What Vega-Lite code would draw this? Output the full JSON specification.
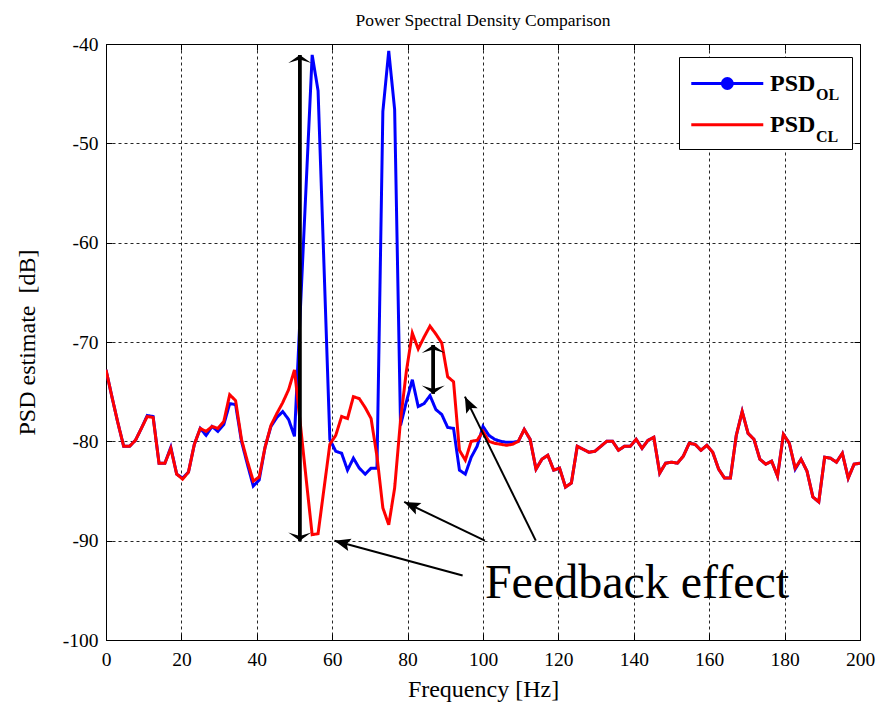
{
  "$schema": "https://vega.github.io/schema/vega-lite/v6.json",
  "width": 754,
  "height": 596,
  "autosize": {"type": "none"},
  "padding": {"left": 106, "top": 44, "right": 35, "bottom": 64},
  "background": "white",
  "title": {"text": "Power Spectral Density Comparison", "font": "Liberation Serif", "fontSize": 17.5, "fontWeight": "normal", "color": "black", "offset": 5},
  "config": {
    "view": {"stroke": "black", "strokeWidth": 1},
    "font": "Liberation Serif",
    "axis": {"labelFont": "Liberation Serif", "titleFont": "Liberation Serif", "labelColor": "black", "titleColor": "black", "titleFontWeight": "normal", "labelFlush": false, "labelOverlap": false, "labelBound": false}
  },
  "datasets": {
    "psd": [
      {"f": 0, "OL": -72.8, "CL": -72.8},
      {"f": 1.5625, "OL": -75.5, "CL": -75.5},
      {"f": 3.125, "OL": -78.1, "CL": -78.1},
      {"f": 4.6875, "OL": -80.5, "CL": -80.5},
      {"f": 6.25, "OL": -80.5, "CL": -80.5},
      {"f": 7.8125, "OL": -79.9, "CL": -79.9},
      {"f": 9.375, "OL": -78.7, "CL": -78.7},
      {"f": 10.9375, "OL": -77.4, "CL": -77.5},
      {"f": 12.5, "OL": -77.5, "CL": -77.6},
      {"f": 14.0625, "OL": -82.2, "CL": -82.2},
      {"f": 15.625, "OL": -82.2, "CL": -82.2},
      {"f": 17.1875, "OL": -80.6, "CL": -80.7},
      {"f": 18.75, "OL": -83.3, "CL": -83.3},
      {"f": 20.3125, "OL": -83.7, "CL": -83.8},
      {"f": 21.875, "OL": -83.1, "CL": -83.1},
      {"f": 23.4375, "OL": -80.3, "CL": -80.3},
      {"f": 25.0, "OL": -78.7, "CL": -78.7},
      {"f": 26.5625, "OL": -79.4, "CL": -79.0},
      {"f": 28.125, "OL": -78.5, "CL": -78.5},
      {"f": 29.6875, "OL": -79.0, "CL": -78.7},
      {"f": 31.25, "OL": -78.3, "CL": -78.0},
      {"f": 32.8125, "OL": -76.2, "CL": -75.3},
      {"f": 34.375, "OL": -76.3, "CL": -75.9},
      {"f": 35.9375, "OL": -80.0, "CL": -79.8},
      {"f": 37.5, "OL": -82.3, "CL": -82.0},
      {"f": 39.0625, "OL": -84.5, "CL": -84.0},
      {"f": 40.625, "OL": -83.9, "CL": -83.6},
      {"f": 42.1875, "OL": -80.6, "CL": -80.6},
      {"f": 43.75, "OL": -78.5, "CL": -78.4},
      {"f": 45.3125, "OL": -77.6, "CL": -77.2},
      {"f": 46.875, "OL": -77.0, "CL": -76.1},
      {"f": 48.4375, "OL": -77.8, "CL": -74.8},
      {"f": 50.0, "OL": -79.5, "CL": -72.8},
      {"f": 51.5625, "OL": -66.7, "CL": -78.3},
      {"f": 53.125, "OL": -53.9, "CL": -83.9},
      {"f": 54.6875, "OL": -41.1, "CL": -89.4},
      {"f": 56.25, "OL": -44.7, "CL": -89.3},
      {"f": 57.8125, "OL": -62.2, "CL": -84.8},
      {"f": 59.375, "OL": -79.8, "CL": -80.3},
      {"f": 60.9375, "OL": -81.0, "CL": -79.4},
      {"f": 62.5, "OL": -81.2, "CL": -77.5},
      {"f": 64.0625, "OL": -82.9, "CL": -77.7},
      {"f": 65.625, "OL": -81.7, "CL": -75.5},
      {"f": 67.1875, "OL": -82.7, "CL": -75.7},
      {"f": 68.75, "OL": -83.3, "CL": -76.6},
      {"f": 70.3125, "OL": -82.7, "CL": -77.7},
      {"f": 71.875, "OL": -82.7, "CL": -81.5},
      {"f": 73.4375, "OL": -46.8, "CL": -86.7},
      {"f": 75.0, "OL": -40.7, "CL": -88.4},
      {"f": 76.5625, "OL": -46.6, "CL": -84.7},
      {"f": 78.125, "OL": -78.4, "CL": -77.9},
      {"f": 79.6875, "OL": -76.0, "CL": -72.9},
      {"f": 81.25, "OL": -73.8, "CL": -69.1},
      {"f": 82.8125, "OL": -76.5, "CL": -70.7},
      {"f": 84.375, "OL": -76.2, "CL": -69.5},
      {"f": 85.9375, "OL": -75.4, "CL": -68.4},
      {"f": 87.5, "OL": -76.8, "CL": -69.2},
      {"f": 89.0625, "OL": -77.3, "CL": -70.1},
      {"f": 90.625, "OL": -78.6, "CL": -73.5},
      {"f": 92.1875, "OL": -78.7, "CL": -74.0},
      {"f": 93.75, "OL": -82.9, "CL": -80.9},
      {"f": 95.3125, "OL": -83.3, "CL": -81.9},
      {"f": 96.875, "OL": -81.6, "CL": -80.0},
      {"f": 98.4375, "OL": -80.5, "CL": -79.9},
      {"f": 100.0, "OL": -78.5, "CL": -79.0},
      {"f": 101.5625, "OL": -79.4, "CL": -80.0},
      {"f": 103.125, "OL": -79.8, "CL": -80.2},
      {"f": 104.6875, "OL": -80.0, "CL": -80.3},
      {"f": 106.25, "OL": -80.1, "CL": -80.4},
      {"f": 107.8125, "OL": -80.1, "CL": -80.3},
      {"f": 109.375, "OL": -80.0, "CL": -80.0},
      {"f": 110.9375, "OL": -78.8, "CL": -78.8},
      {"f": 112.5, "OL": -79.8, "CL": -79.8},
      {"f": 114.0625, "OL": -82.8, "CL": -82.8},
      {"f": 115.625, "OL": -81.8, "CL": -81.8},
      {"f": 117.1875, "OL": -81.4, "CL": -81.4},
      {"f": 118.75, "OL": -82.9, "CL": -82.9},
      {"f": 120.3125, "OL": -82.7, "CL": -82.7},
      {"f": 121.875, "OL": -84.6, "CL": -84.6},
      {"f": 123.4375, "OL": -84.2, "CL": -84.2},
      {"f": 125.0, "OL": -80.5, "CL": -80.5},
      {"f": 126.5625, "OL": -80.8, "CL": -80.8},
      {"f": 128.125, "OL": -81.1, "CL": -81.1},
      {"f": 129.6875, "OL": -81.0, "CL": -81.0},
      {"f": 131.25, "OL": -80.5, "CL": -80.5},
      {"f": 132.8125, "OL": -80.0, "CL": -80.0},
      {"f": 134.375, "OL": -80.0, "CL": -80.0},
      {"f": 135.9375, "OL": -80.9, "CL": -80.9},
      {"f": 137.5, "OL": -80.5, "CL": -80.5},
      {"f": 139.0625, "OL": -80.5, "CL": -80.5},
      {"f": 140.625, "OL": -79.8, "CL": -79.8},
      {"f": 142.1875, "OL": -80.7, "CL": -80.7},
      {"f": 143.75, "OL": -79.9, "CL": -79.9},
      {"f": 145.3125, "OL": -79.6, "CL": -79.6},
      {"f": 146.875, "OL": -83.2, "CL": -83.2},
      {"f": 148.4375, "OL": -82.2, "CL": -82.2},
      {"f": 150.0, "OL": -82.1, "CL": -82.1},
      {"f": 151.5625, "OL": -82.2, "CL": -82.2},
      {"f": 153.125, "OL": -81.5, "CL": -81.5},
      {"f": 154.6875, "OL": -80.2, "CL": -80.2},
      {"f": 156.25, "OL": -80.3, "CL": -80.3},
      {"f": 157.8125, "OL": -80.9, "CL": -80.9},
      {"f": 159.375, "OL": -80.4, "CL": -80.4},
      {"f": 160.9375, "OL": -81.1, "CL": -81.1},
      {"f": 162.5, "OL": -82.8, "CL": -82.8},
      {"f": 164.0625, "OL": -83.7, "CL": -83.7},
      {"f": 165.625, "OL": -83.7, "CL": -83.7},
      {"f": 167.1875, "OL": -79.4, "CL": -79.4},
      {"f": 168.75, "OL": -77.0, "CL": -77.0},
      {"f": 170.3125, "OL": -79.2, "CL": -79.2},
      {"f": 171.875, "OL": -79.8, "CL": -79.8},
      {"f": 173.4375, "OL": -81.8, "CL": -81.8},
      {"f": 175.0, "OL": -82.3, "CL": -82.3},
      {"f": 176.5625, "OL": -82.0, "CL": -82.0},
      {"f": 178.125, "OL": -83.5, "CL": -83.5},
      {"f": 179.6875, "OL": -79.3, "CL": -79.3},
      {"f": 181.25, "OL": -80.2, "CL": -80.2},
      {"f": 182.8125, "OL": -82.8, "CL": -82.7},
      {"f": 184.375, "OL": -81.8, "CL": -81.8},
      {"f": 185.9375, "OL": -83.0, "CL": -83.0},
      {"f": 187.5, "OL": -85.6, "CL": -85.6},
      {"f": 189.0625, "OL": -86.1, "CL": -86.1},
      {"f": 190.625, "OL": -81.6, "CL": -81.6},
      {"f": 192.1875, "OL": -81.7, "CL": -81.7},
      {"f": 193.75, "OL": -82.1, "CL": -82.1},
      {"f": 195.3125, "OL": -81.2, "CL": -81.2},
      {"f": 196.875, "OL": -83.7, "CL": -83.7},
      {"f": 198.4375, "OL": -82.3, "CL": -82.3},
      {"f": 200.0, "OL": -82.2, "CL": -82.2}
    ],
    "heads": [
      {"x": 51.4, "y": -41.1, "fx": 51.4, "fy": -90.0, "kind": "double"},
      {"x": 51.4, "y": -90.0, "fx": 51.4, "fy": -41.1, "kind": "double"},
      {"x": 86.8, "y": -70.3, "fx": 86.8, "fy": -75.2, "kind": "double"},
      {"x": 86.8, "y": -75.2, "fx": 86.8, "fy": -70.3, "kind": "double"},
      {"x": 60.6, "y": -90.0, "fx": 94.6, "fy": -93.5, "kind": "single"},
      {"x": 79.1, "y": -86.1, "fx": 100.5, "fy": -90.0, "kind": "single"},
      {"x": 95.2, "y": -75.5, "fx": 114.0, "fy": -90.0, "kind": "single"}
    ],
    "note": [
      {"label": "Feedback effect", "x": 100.5, "y": -95.8}
    ]
  },
  "layer": [
    {
      "data": {"name": "psd"},
      "transform": [{"fold": ["OL", "CL"], "as": ["series", "psd"]}],
      "mark": {"type": "line", "strokeWidth": 3, "clip": true},
      "encoding": {
        "x": {"field": "f", "type": "quantitative", "scale": {"domain": [0, 200], "nice": false},
          "axis": {"orient": "bottom", "values": [0, 20, 40, 60, 80, 100, 120, 140, 160, 180, 200], "grid": true, "gridColor": "black", "gridDash": [3, 3], "gridOpacity": 0.85, "domain": false, "ticks": true, "tickSize": -6, "tickColor": "black", "labelFontSize": 19.5, "labelPadding": 16, "labelExpr": "datum.value + ''", "title": "Frequency [Hz]", "titleFontSize": 24, "titlePadding": 9}},
        "y": {"field": "psd", "type": "quantitative", "scale": {"domain": [-100, -40], "nice": false},
          "axis": {"orient": "left", "values": [-100, -90, -80, -70, -60, -50, -40], "grid": true, "gridColor": "black", "gridDash": [3, 3], "gridOpacity": 0.85, "domain": false, "ticks": true, "tickSize": -6, "tickColor": "black", "labelFontSize": 19.5, "labelPadding": 14, "labelExpr": "datum.value + ''", "title": "PSD estimate\u00a0 [dB]", "titleFontSize": 24, "titlePadding": 23}},
        "color": {"field": "series", "type": "nominal", "scale": {"domain": ["OL", "CL"], "range": ["#0000ff", "#ff0000"]},
          "legend": {"orient": "none", "legendX": 573, "legendY": 13, "title": null, "direction": "vertical", "padding": 12, "strokeColor": "black", "fillColor": "white", "symbolType": "M-1.12,0L4.55,0M10.1,0", "symbolSize": 645, "symbolStrokeWidth": 3, "labelFont": "Liberation Serif", "labelFontSize": 24, "labelFontWeight": "bold", "labelColor": "black", "labelOffset": 50, "rowPadding": 14.3, "labelExpr": "'PSD'",
            "encode": {"symbols": {"update": {"shape": {"signal": "datum.value === 'OL' ? 'M-1.12,0L4.55,0M2.11,0A0.39,0.39,0,1,1,1.33,0A0.39,0.39,0,1,1,2.11,0M10.1,0' : 'M-1.12,0L4.55,0M10.1,0'"}, "fill": {"signal": "datum.value === 'OL' ? '#0000ff' : 'transparent'"}}}}}},
        "strokeDash": {"field": "series", "type": "nominal", "sort": "descending", "scale": {"range": [[1, 0], [1, 0]]},
          "legend": {"orient": "none", "legendX": 694, "legendY": 42.5, "title": null, "direction": "vertical", "padding": 0, "symbolType": "circle", "symbolSize": 1, "symbolOpacity": 0, "labelOffset": 0, "labelFont": "Liberation Serif", "labelFontSize": 16, "labelFontWeight": "bold", "labelColor": "black", "rowPadding": 26.5}}
      }
    },
    {
      "data": {"name": "heads"},
      "transform": [{"filter": "datum.kind === 'double'"}],
      "mark": {"type": "rule", "strokeWidth": 3.5, "color": "black"},
      "encoding": {
        "x": {"field": "fx", "type": "quantitative", "axis": null},
        "y": {"field": "fy", "type": "quantitative", "axis": null},
        "x2": {"field": "x"},
        "y2": {"field": "y"}
      }
    },
    {
      "data": {"name": "heads"},
      "transform": [{"filter": "datum.kind === 'single'"}],
      "mark": {"type": "rule", "strokeWidth": 2, "color": "black"},
      "encoding": {
        "x": {"field": "fx", "type": "quantitative", "axis": null},
        "y": {"field": "fy", "type": "quantitative", "axis": null},
        "x2": {"field": "x"},
        "y2": {"field": "y"}
      }
    },
    {
      "data": {"name": "heads"},
      "transform": [
        {"filter": "datum.kind === 'double'"},
        {"calculate": "atan2((datum.x - datum.fx) * 3.77, (datum.y - datum.fy) * 9.93) * 180 / PI", "as": "ang"}
      ],
      "mark": {"type": "point", "filled": true, "color": "black", "opacity": 1, "size": 529, "shape": "M0,0L1,0.7L0,0.4L-1,0.7Z"},
      "encoding": {
        "x": {"field": "x", "type": "quantitative", "axis": null},
        "y": {"field": "y", "type": "quantitative", "axis": null},
        "angle": {"field": "ang", "type": "quantitative", "scale": null}
      }
    },
    {
      "data": {"name": "heads"},
      "transform": [
        {"filter": "datum.kind === 'single'"},
        {"calculate": "atan2((datum.x - datum.fx) * 3.77, (datum.y - datum.fy) * 9.93) * 180 / PI", "as": "ang"}
      ],
      "mark": {"type": "point", "filled": true, "color": "black", "opacity": 1, "size": 256, "shape": "M0,0L0.8,2L0,1.6L-0.8,2Z"},
      "encoding": {
        "x": {"field": "x", "type": "quantitative", "axis": null},
        "y": {"field": "y", "type": "quantitative", "axis": null},
        "angle": {"field": "ang", "type": "quantitative", "scale": null}
      }
    },
    {
      "data": {"name": "note"},
      "mark": {"type": "text", "font": "Liberation Serif", "fontSize": 48, "align": "left", "baseline": "alphabetic", "color": "black"},
      "encoding": {
        "x": {"field": "x", "type": "quantitative", "axis": {"orient": "top", "values": [0, 20, 40, 60, 80, 100, 120, 140, 160, 180, 200], "labels": false, "grid": false, "domain": false, "ticks": true, "tickSize": -6, "tickColor": "black", "title": null}},
        "y": {"field": "y", "type": "quantitative", "axis": {"orient": "right", "values": [-100, -90, -80, -70, -60, -50, -40], "labels": false, "grid": false, "domain": false, "ticks": true, "tickSize": -6, "tickColor": "black", "title": null}},
        "text": {"field": "label"}
      }
    }
  ],
  "resolve": {"axis": {"x": "independent", "y": "independent"}}
}
